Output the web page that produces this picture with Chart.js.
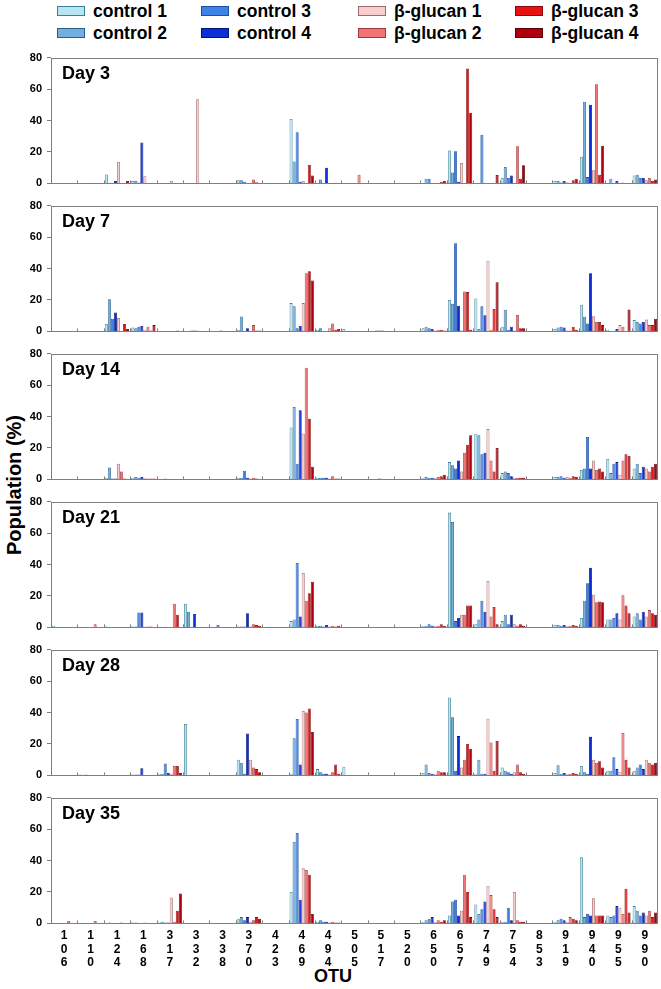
<!DOCTYPE html>
<html>
<head>
<meta charset="utf-8">
<script src="https://cdn.jsdelivr.net/npm/chart.js@4.4.1/dist/chart.umd.min.js"></script>
<style>
  body { margin: 0; width: 661px; height: 989px; background: #fff; position: relative; overflow: hidden;
         font-family: 'Liberation Sans', Arial, sans-serif; }
  .panel { position: absolute; left: 0; }
  .lg { position: absolute; font-weight: bold; font-size: 17.5px; line-height: 20px; color: #000; white-space: nowrap; }
  .lg i { position: absolute; left: 0; top: 5px; width: 28px; height: 10px; border: 1px solid #404040; box-sizing: border-box; }
  .lg span { position: absolute; left: 36px; top: 0; }
  #ytitle { position: absolute; left: 14px; top: 485px; transform: translate(-50%, -50%) rotate(-90deg);
            font-weight: bold; font-size: 20px; white-space: nowrap; }
  #xtitle { position: absolute; left: 333px; top: 976px; transform: translate(-50%, -50%);
            font-weight: bold; font-size: 18px; }
</style>
</head>
<body>
<div id="ytitle">Population (%)</div>
<div id="xtitle">OTU</div>
<script>
// OTU categories on the x axis
var otuLabels = ['106', '110', '124', '168', '317', '332', '338', '370', '423', '469', '494', '505',
                 '517', '520', '650', '657', '749', '754', '853', '919', '940', '955', '990'];
var seriesNames = ['control 1', 'control 2', 'control 3', 'control 4',
                   'β-glucan 1', 'β-glucan 2', 'β-glucan 3', 'β-glucan 4'];
var dayNames = ['Day 3', 'Day 7', 'Day 14', 'Day 21', 'Day 28', 'Day 35'];
var yTicks = [0, 20, 40, 60, 80];

// rows: control 1..4, β-glucan 1..4 ; columns follow otuLabels
var day3 = [
    [0, 0, 5.7, 1.5, 0, 0, 0, 2, 0, 41, 0, 0, 0, 0, 0, 21, 0, 3.5, 0, 1.5, 17, 0, 5],
    [0, 0, 0, 1.5, 0, 0, 0, 2, 0, 14, 2.5, 0, 0, 0, 3, 7, 0, 10.4, 0, 1.5, 52, 3, 5.5],
    [0, 0, 0, 0.5, 0, 0, 0, 1, 0, 32.5, 0, 0, 0, 0, 3, 20.4, 31, 3.5, 0, 0.5, 4, 0, 3.5],
    [0, 0, 1.5, 26, 0, 0, 0, 0, 0, 1, 10, 0, 0, 0.3, 0, 1, 0, 5, 0, 1.5, 50, 1.5, 3.5],
    [0, 0, 13.8, 4.5, 1.5, 53.5, 0, 0, 0, 1.5, 0, 0, 0, 0, 0, 13, 0, 0, 0, 0.8, 8.3, 0, 2],
    [0, 0.4, 0, 0, 0, 0, 0, 2.5, 0, 0, 0, 5.5, 0, 0, 0, 0, 0, 23.6, 0, 0, 63, 0.5, 3.5],
    [0, 0, 0, 0.3, 0, 0, 0, 0.8, 0, 11.7, 0.4, 0, 0, 0, 1, 73, 0, 3, 0, 2, 5.5, 0, 1.5],
    [0, 0, 1.5, 0.3, 0, 0, 0, 0, 0, 5.1, 0, 0, 0, 0, 1.5, 45, 5.3, 11.5, 0, 3, 24, 0, 2.5]
];
var day7 = [
    [0, 0, 4.7, 2.5, 0, 0, 0, 1, 0, 18, 1, 1.5, 0, 0, 2, 20, 21, 3, 0, 1.5, 17, 1, 7.2],
    [0, 0, 20.5, 2, 0, 0, 0, 9.5, 0, 16, 2, 0, 0, 0, 3, 17.6, 1.5, 13.8, 0, 2.5, 9.3, 0, 6],
    [0, 0, 8, 3, 0, 0.5, 0, 0, 0, 2, 0, 0, 0.5, 0, 2, 56, 16, 1, 0, 3, 5, 0, 5],
    [0, 0, 12, 3.5, 0, 0.5, 0.5, 2, 0, 3.5, 0, 0, 0.5, 0, 1.5, 16.3, 10.2, 3, 0, 2.5, 37, 1.5, 6],
    [0, 0, 8.5, 1, 0, 0.5, 0, 0, 0, 18, 2, 0, 0.8, 0, 0.5, 0.5, 45, 0.5, 0, 0.5, 9.7, 4, 7.5],
    [0, 0, 0, 3, 0, 0, 0, 4, 0, 37, 5, 0, 0, 0, 1, 25.4, 1, 10.4, 0, 0.5, 6, 3, 4],
    [0, 0, 4.7, 0.5, 0.5, 0, 0, 0.5, 0, 38.3, 1, 0, 0, 0, 1, 25, 14.2, 2, 0, 3, 6, 0, 4],
    [0, 0, 1.5, 4, 0, 0, 0, 0.5, 0, 32.4, 1.5, 0, 0, 0, 0.5, 1, 31.3, 2, 0, 1, 4, 14, 8]
];
var day14 = [
    [0, 0, 1, 1, 0, 0, 0, 1, 0, 33, 1, 0, 0, 0, 1, 11, 29, 4, 0, 1.5, 6, 13, 7],
    [0, 0, 7.5, 1.5, 0, 0, 0, 1, 0, 46, 1, 0, 0, 0, 1.5, 9, 28, 5, 0, 1.5, 7, 4, 10],
    [0, 0, 0.5, 1, 0.5, 0, 0, 5.5, 0, 10, 1, 0, 0, 0, 1, 7, 16, 4, 0, 2, 27, 10, 4],
    [0, 0, 0.5, 1.5, 0, 0, 0, 1, 0, 44, 1, 0, 0.5, 0, 1, 12, 17, 2, 0, 1, 7, 11, 8],
    [0, 0, 10, 1, 0, 0, 0, 0.5, 0, 29, 0.5, 0, 0, 0, 1, 5, 32, 1, 0, 1.5, 12, 3, 7],
    [0, 0, 5, 0.5, 0, 0, 0, 1, 0, 71, 2, 0, 0, 0, 1.5, 17, 12, 1, 0, 1, 6, 12, 5],
    [0, 0, 0.5, 0.5, 0, 0, 0, 0.5, 0, 38.5, 0.5, 0, 0, 0, 2, 22, 5, 1, 0, 2, 7, 16, 8],
    [0, 0, 0, 0.5, 0, 0, 0, 0, 0, 8, 0.5, 0, 0, 0, 3, 28, 20, 1, 0, 1.5, 5, 15, 10]
];
var day21 = [
    [1, 0, 0.5, 0.5, 0, 15, 0, 0.5, 0, 4, 1, 0, 0, 0, 1, 73, 2, 4, 0, 1.5, 6, 5, 7],
    [0, 0, 0, 0.5, 0, 10, 0, 0.5, 0, 5, 1, 0, 0, 0, 1, 67, 5, 8, 0, 1.5, 17, 5, 9],
    [0, 0, 0, 9.5, 0, 0, 1.5, 0.5, 0, 41, 0.5, 0, 0, 0, 2, 4, 17, 2, 0, 1, 28, 6, 5],
    [0, 0, 0, 9.5, 0, 8.5, 0, 9, 0, 7, 1.5, 0, 0, 0, 1, 6, 10, 8, 0, 1.5, 38, 9, 10],
    [0, 0, 0, 0.5, 0, 0, 0, 0.5, 0, 34.6, 0.5, 0, 0, 0, 1, 8, 29.5, 2, 0, 1, 20.8, 5, 7],
    [0, 2, 0, 0.5, 15, 0, 0, 2, 0, 17, 1, 0, 0, 0, 1, 8, 7, 1, 0, 1, 16, 20.4, 11],
    [0, 0, 0, 0.5, 8, 0, 0, 1.5, 0, 21.7, 0.5, 0, 0, 0, 2, 14, 13, 2, 0, 1.5, 16.4, 14, 9],
    [0, 0, 0, 0, 0, 0, 0, 1, 0, 29, 1, 0, 0, 0, 1, 14, 2, 1, 0, 1, 16, 9, 8]
];
var day28 = [
    [0, 0.5, 0, 0.5, 1, 32.7, 0, 10, 0, 1, 4, 5.5, 0, 0, 1.5, 49.5, 1, 5, 0, 1.5, 6, 3, 3],
    [0, 0, 0, 0.5, 1, 0, 0, 8, 0, 23.6, 2, 0, 0, 0, 7, 37, 10, 3, 0, 6.5, 2, 3, 5],
    [0, 0.5, 0, 0.5, 7.5, 0, 0, 1, 0, 35.9, 1, 0, 0, 0, 1.5, 3, 1, 2, 0, 1, 1, 11.5, 7],
    [0, 0, 0, 4.5, 1.5, 0, 0, 26.6, 0, 7, 1, 0, 0, 0, 1, 25, 1, 1, 0, 1.5, 24.5, 4, 4],
    [0, 0, 0, 0, 1, 0, 0, 10, 0, 41, 0.5, 0, 0, 0, 1, 5, 36, 2, 0, 1, 10, 2, 10],
    [0, 0, 0, 0, 6, 0, 0, 5, 0, 40, 2, 0, 0, 0, 3, 10, 21, 7, 0, 1, 8, 27, 8],
    [0, 0, 0, 0, 6, 0, 0, 4, 0, 42.5, 7, 0, 0, 0, 2, 20, 3, 2, 0, 1.5, 9, 10, 7],
    [0, 0, 0, 0, 1.5, 0, 0, 2, 0, 27.6, 1, 0, 0, 0, 2, 17, 22, 1, 0, 1, 5, 5, 8]
];
var day35 = [
    [0, 0, 0, 0.5, 0.5, 0, 0, 3, 0, 20, 1, 0, 0, 0, 1, 5, 12, 1, 0, 1, 42, 5, 11],
    [0, 0, 0.5, 0.5, 1, 0, 0, 4, 0, 52, 2, 0, 0, 0, 2, 14, 6, 1, 0, 2, 4, 4, 8],
    [0, 0, 0, 0, 0.5, 0, 0, 2, 0, 57.5, 1, 0, 0, 0, 3, 15, 9, 10, 0, 3, 6, 5, 5],
    [0, 0, 0, 0, 0.5, 0, 0, 4, 0, 15, 1, 0, 0, 0, 4, 5, 14, 2, 0, 2, 5, 11, 7],
    [0, 0, 0, 0.5, 16.5, 0, 0, 1, 0, 35, 0.5, 0, 0, 0, 1, 8, 24, 20, 0, 1, 16, 10, 5],
    [1.5, 1.5, 0.5, 0, 1, 0, 0, 2, 0, 34, 1, 0, 0, 0, 2, 31, 18, 2, 0, 4, 5, 6, 8],
    [0, 0, 0, 0, 8, 0, 0, 4, 0, 31, 0.5, 0, 0, 0, 1, 20, 9, 1, 0, 3, 5, 22, 4],
    [0, 0, 0, 0, 19, 0, 0, 3, 0, 6, 0.5, 0, 0, 0, 2, 4, 4, 1, 0, 2, 5, 7, 7]
];
var allDays = [day3, day7, day14, day21, day28, day35];

var fillColors = ['#b5e6f2', '#72aede', '#3d82e6', '#0b2fd6', '#f8cdcd', '#f27373', '#e81212', '#b0000f'];
var edgeColors = ['#3d7f95', '#2a5f8a', '#1f4fa0', '#06157a', '#a06868', '#a03a3a', '#8a0a0a', '#5a0008'];

var panelTop = 58, panelStep = 148, plotHeight = 126, plotLeft = 51, padRight = 3;

Chart.defaults.font.family = "'Liberation Sans', Arial, sans-serif";
Chart.defaults.color = '#000';

// frame, small group ticks and the day title
var panelDecor = {
    id: 'panelDecor',
    afterDraw: function (chart) {
        var a = chart.chartArea, ctx = chart.ctx, xs = chart.scales.x;
        var half = (xs.getPixelForValue(1) - xs.getPixelForValue(0)) / 2;
        ctx.save();
        ctx.strokeStyle = '#7f7f7f';
        ctx.lineWidth = 1;
        ctx.beginPath();
        for (var i = 1; i < chart.data.labels.length; i++) {
            var px = Math.round(xs.getPixelForValue(i) - half) + 0.5;
            ctx.moveTo(px, a.bottom);
            ctx.lineTo(px, a.bottom - 3);
        }
        ctx.stroke();
        ctx.strokeRect(Math.round(a.left) + 0.5, Math.round(a.top) + 0.5,
                       Math.round(a.right - a.left) - 1, Math.round(a.bottom - a.top) - 1);
        ctx.fillStyle = '#000';
        ctx.font = "bold 18px 'Liberation Sans', Arial, sans-serif";
        ctx.textBaseline = 'alphabetic';
        ctx.fillText(chart.options.plugins.panelDecor.title, a.left + 11, a.top + 21);
        ctx.restore();
    }
};

function buildLegend() {
    var cols = [57, 201, 358, 515], rows = [1, 23];
    seriesNames.forEach(function (name, i) {
        var d = document.createElement('div');
        d.className = 'lg';
        d.style.left = cols[Math.floor(i / 2)] + 'px';
        d.style.top = rows[i % 2] + 'px';
        d.innerHTML = '<i style="background:' + fillColors[i] + ';border-color:' + edgeColors[i] + '"></i><span>' + name + '</span>';
        document.body.appendChild(d);
    });
}

function makePanel(k, height) {
    var last = k === allDays.length - 1;
    var wrap = document.createElement('div');
    wrap.className = 'panel';
    var canvas = document.createElement('canvas');
    canvas.width = 661;
    canvas.height = height;
    canvas.style.width = '661px';
    canvas.style.height = height + 'px';
    wrap.appendChild(canvas);
    document.body.appendChild(wrap);

    var datasets = allDays[k].map(function (vals, i) {
        return {
            label: seriesNames[i],
            data: vals,
            backgroundColor: fillColors[i],
            borderColor: edgeColors[i],
            borderWidth: 0.8,
            categoryPercentage: 0.92,
            barPercentage: 1.0
        };
    });

    var chart = new Chart(canvas, {
        type: 'bar',
        data: { labels: last ? otuLabels.map(function (s) { return s.split(''); }) : otuLabels, datasets: datasets },
        options: {
            responsive: false,
            animation: false,
            layout: { padding: { top: 8, bottom: last ? 2 : 8, left: 0, right: padRight } },
            plugins: { legend: { display: false }, tooltip: { enabled: false }, panelDecor: { title: dayNames[k] } },
            scales: {
                x: {
                    display: last,
                    grid: { display: false },
                    border: { display: false },
                    ticks: { autoSkip: false, maxRotation: 0, padding: -2, color: '#000',
                             font: { size: 12, weight: 'bold', lineHeight: 1.1 } }
                },
                y: {
                    min: 0,
                    max: 80,
                    afterBuildTicks: function (s) { s.ticks = yTicks.map(function (v) { return { value: v }; }); },
                    afterFit: function (s) { s.width = plotLeft; },
                    grid: { drawOnChartArea: false, tickLength: 4, color: '#7f7f7f' },
                    border: { display: false },
                    ticks: { padding: 5, color: '#000', font: { size: 11, weight: 'bold' } }
                }
            }
        },
        plugins: [panelDecor]
    });
    return { wrap: wrap, chart: chart };
}

document.addEventListener('DOMContentLoaded', function () {
    buildLegend();
    for (var k = 0; k < allDays.length; k++) {
        var h = k === allDays.length - 1 ? 200 : plotHeight + 16;
        var p = makePanel(k, h);
        var got = p.chart.chartArea.bottom - p.chart.chartArea.top;
        if (Math.abs(got - plotHeight) > 0.5) {
            p.chart.destroy();
            p.wrap.remove();
            p = makePanel(k, Math.round(h + plotHeight - got));
        }
        p.wrap.style.top = (panelTop + k * panelStep - p.chart.chartArea.top) + 'px';
    }
});
</script>
</body>
</html>
